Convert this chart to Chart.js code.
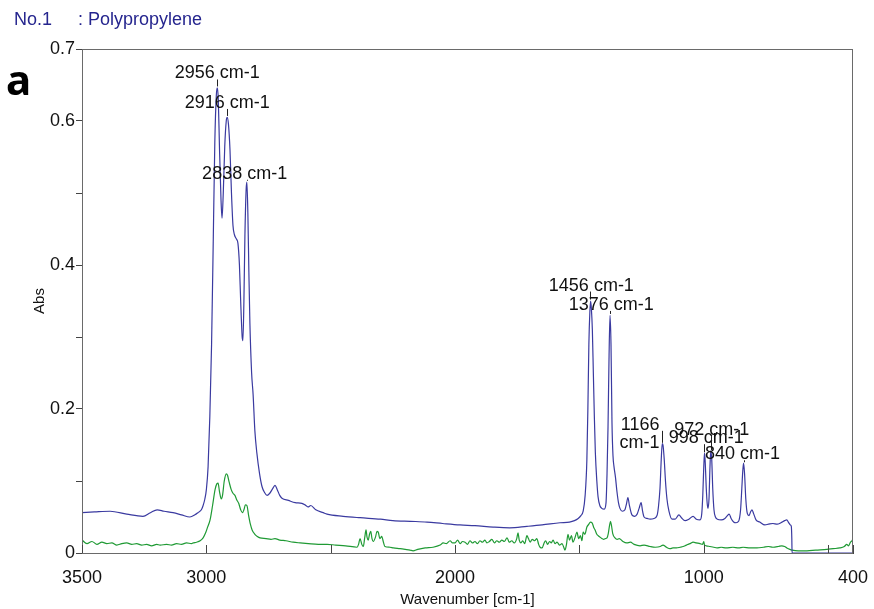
<!DOCTYPE html>
<html>
<head>
<meta charset="utf-8">
<script src="https://cdn.jsdelivr.net/npm/chart.js@4/dist/chart.umd.min.js"></script>
<style>
  html, body { margin: 0; padding: 0; background: #fff; }
  #wrap { position: relative; width: 874px; height: 609px; }
  #chart { position: absolute; left: 0; top: 0; }
  .head { position: absolute; top: 10px; font: 18px/18px "Liberation Sans", Arial, sans-serif; color: #25258e; white-space: nowrap; }
  #panel { position: absolute; left: 6px; top: 58px; font: bold 42px/42px "Noto Sans", sans-serif; color: #000; }
</style>
</head>
<body>
<div id="wrap">
  <canvas id="chart" width="874" height="609"></canvas>
  <div class="head" style="left:14px">No.1</div>
  <div class="head" style="left:78px">: Polypropylene</div>
  <div id="panel">a</div>
</div>
<script>
// sample spectrum (blue)
const ppWavenumber = [3500, 3450, 3387, 3320, 3255, 3225, 3198, 3170, 3134, 3100, 3066, 3046, 3034, 3020, 3013, 3006, 3000, 2993, 2986, 2979, 2972, 2966, 2960, 2956, 2952, 2947, 2941, 2937, 2932, 2926, 2920, 2916, 2911, 2905, 2899, 2893, 2887, 2879, 2873, 2867, 2862, 2856, 2853, 2849, 2845, 2840, 2837, 2833, 2829, 2825, 2818, 2812, 2805, 2797, 2786, 2776, 2766, 2756, 2745, 2734, 2724, 2715, 2705, 2696, 2670, 2643, 2616, 2600, 2591, 2580, 2560, 2530, 2515, 2450, 2382, 2300, 2250, 2180, 2113, 2050, 1980, 1920, 1847, 1780, 1711, 1650, 1578, 1540, 1520, 1505, 1494, 1485, 1477, 1470, 1466, 1462, 1458, 1455, 1452, 1448, 1444, 1440, 1436, 1430, 1425, 1418, 1410, 1400, 1393, 1389, 1385, 1381, 1377, 1373, 1369, 1365, 1361, 1355, 1349, 1343, 1337, 1327, 1317, 1311, 1305, 1299, 1289, 1278, 1268, 1260, 1252, 1246, 1240, 1228, 1216, 1200, 1188, 1182, 1176, 1171, 1167, 1164, 1159, 1154, 1148, 1140, 1128, 1115, 1100, 1090, 1075, 1060, 1043, 1030, 1015, 1008, 1004, 1000, 997, 994, 990, 986, 983, 979, 975, 972, 968, 964, 959, 953, 945, 930, 915, 905, 898, 890, 880, 870, 860, 852, 847, 843, 840, 836, 831, 825, 818, 812, 806, 800, 790, 775, 754, 740, 722, 705, 690, 675, 666, 660, 652, 648, 646, 645, 400];
const ppAbs = [0.056, 0.057, 0.058, 0.054, 0.051, 0.056, 0.060, 0.058, 0.056, 0.053, 0.050, 0.053, 0.056, 0.060, 0.066, 0.075, 0.088, 0.12, 0.19, 0.29, 0.44, 0.57, 0.635, 0.646, 0.63, 0.56, 0.49, 0.465, 0.50, 0.565, 0.60, 0.605, 0.595, 0.56, 0.50, 0.455, 0.442, 0.436, 0.43, 0.40, 0.35, 0.30, 0.295, 0.35, 0.44, 0.505, 0.515, 0.47, 0.39, 0.32, 0.25, 0.22, 0.17, 0.139, 0.11, 0.092, 0.084, 0.080, 0.083, 0.089, 0.094, 0.088, 0.080, 0.076, 0.073, 0.070, 0.069, 0.066, 0.064, 0.066, 0.060, 0.056, 0.054, 0.051, 0.049, 0.047, 0.045, 0.044, 0.043, 0.041, 0.039, 0.038, 0.036, 0.035, 0.037, 0.039, 0.042, 0.043, 0.045, 0.048, 0.052, 0.058, 0.08, 0.13, 0.20, 0.29, 0.335, 0.35, 0.34, 0.31, 0.25, 0.19, 0.14, 0.10, 0.078, 0.066, 0.062, 0.061, 0.07, 0.11, 0.175, 0.27, 0.33, 0.29, 0.18, 0.135, 0.12, 0.105, 0.085, 0.07, 0.062, 0.058, 0.06, 0.068, 0.077, 0.066, 0.053, 0.051, 0.054, 0.062, 0.07, 0.058, 0.05, 0.048, 0.047, 0.048, 0.052, 0.065, 0.09, 0.13, 0.152, 0.15, 0.13, 0.10, 0.075, 0.058, 0.047, 0.047, 0.053, 0.049, 0.045, 0.047, 0.051, 0.047, 0.046, 0.055, 0.08, 0.12, 0.139, 0.125, 0.09, 0.068, 0.062, 0.075, 0.12, 0.142, 0.13, 0.09, 0.06, 0.05, 0.047, 0.046, 0.048, 0.052, 0.054, 0.048, 0.043, 0.042, 0.044, 0.06, 0.09, 0.115, 0.125, 0.11, 0.075, 0.055, 0.052, 0.057, 0.060, 0.055, 0.046, 0.043, 0.039, 0.040, 0.041, 0.040, 0.042, 0.045, 0.046, 0.043, 0.039, 0.037, 0.02, 0.0, 0.0];

// reference spectrum (green)
const refWavenumber = [3500, 3480, 3460, 3440, 3420, 3400, 3380, 3360, 3340, 3320, 3300, 3280, 3260, 3240, 3220, 3200, 3186, 3160, 3140, 3120, 3100, 3080, 3060, 3053, 3040, 3025, 3013, 3003, 2995, 2985, 2975, 2965, 2958, 2953, 2947, 2940, 2935, 2928, 2920, 2915, 2908, 2900, 2893, 2885, 2878, 2870, 2862, 2855, 2849, 2843, 2837, 2830, 2823, 2816, 2805, 2795, 2784, 2760, 2740, 2724, 2705, 2680, 2651, 2623, 2590, 2550, 2515, 2480, 2440, 2394, 2388, 2382, 2375, 2369, 2363, 2358, 2354, 2349, 2344, 2339, 2334, 2329, 2320, 2314, 2309, 2302, 2295, 2288, 2282, 2262, 2248, 2221, 2200, 2181, 2169, 2150, 2120, 2089, 2060, 2048, 2035, 2020, 2010, 2000, 1990, 1980, 1970, 1960, 1950, 1940, 1930, 1920, 1910, 1900, 1890, 1880, 1872, 1862, 1852, 1842, 1832, 1822, 1812, 1802, 1791, 1782, 1772, 1762, 1752, 1747, 1742, 1735, 1728, 1720, 1711, 1705, 1698, 1690, 1680, 1671, 1664, 1658, 1650, 1643, 1636, 1628, 1620, 1613, 1606, 1598, 1590, 1580, 1570, 1563, 1558, 1552, 1546, 1540, 1532, 1526, 1518, 1510, 1503, 1496, 1490, 1485, 1478, 1470, 1462, 1456, 1449, 1442, 1437, 1430, 1424, 1417, 1410, 1403, 1396, 1389, 1384, 1379, 1375, 1371, 1366, 1357, 1348, 1340, 1325, 1310, 1295, 1280, 1256, 1240, 1216, 1195, 1175, 1164, 1150, 1136, 1124, 1110, 1095, 1083, 1070, 1055, 1043, 1030, 1015, 1005, 1000, 997, 990, 975, 960, 947, 930, 910, 883, 860, 842, 814, 786, 760, 740, 722, 700, 686, 675, 666, 654, 645, 620, 585, 550, 505, 480, 453, 435, 425, 418, 410, 404, 400];
const refAbs = [0.018, 0.013, 0.016, 0.012, 0.015, 0.013, 0.014, 0.011, 0.013, 0.014, 0.012, 0.013, 0.011, 0.012, 0.010, 0.012, 0.011, 0.012, 0.011, 0.013, 0.012, 0.014, 0.013, 0.014, 0.015, 0.017, 0.021, 0.028, 0.036, 0.046, 0.066, 0.088, 0.096, 0.097, 0.085, 0.075, 0.08, 0.10, 0.11, 0.108, 0.098, 0.088, 0.083, 0.08, 0.074, 0.069, 0.06, 0.056, 0.06, 0.067, 0.066, 0.052, 0.04, 0.032, 0.026, 0.023, 0.021, 0.02, 0.019, 0.02, 0.018, 0.017, 0.015, 0.014, 0.013, 0.012, 0.012, 0.011, 0.010, 0.008, 0.012, 0.020, 0.012, 0.009, 0.022, 0.032, 0.022, 0.018, 0.026, 0.030, 0.02, 0.016, 0.022, 0.03, 0.029, 0.02, 0.023, 0.015, 0.009, 0.008, 0.007, 0.006, 0.005, 0.004, 0.003, 0.005, 0.007, 0.008, 0.011, 0.014, 0.013, 0.017, 0.014, 0.014, 0.018, 0.013, 0.016, 0.015, 0.012, 0.017, 0.014, 0.016, 0.013, 0.017, 0.015, 0.018, 0.014, 0.016, 0.019, 0.014, 0.017, 0.015, 0.018, 0.016, 0.021, 0.015, 0.017, 0.014, 0.02, 0.028, 0.018, 0.014, 0.017, 0.013, 0.024, 0.02, 0.015, 0.019, 0.017, 0.02, 0.012, 0.008, 0.007, 0.013, 0.017, 0.012, 0.016, 0.014, 0.018, 0.013, 0.015, 0.011, 0.013, 0.008, 0.004, 0.012, 0.026, 0.018, 0.024, 0.015, 0.021, 0.029, 0.02, 0.024, 0.017, 0.029, 0.026, 0.036, 0.04, 0.043, 0.042, 0.035, 0.032, 0.026, 0.024, 0.022, 0.02, 0.019, 0.02, 0.021, 0.027, 0.038, 0.044, 0.038, 0.027, 0.021, 0.019, 0.02, 0.016, 0.014, 0.015, 0.012, 0.01, 0.011, 0.009, 0.008, 0.009, 0.011, 0.008, 0.006, 0.007, 0.007, 0.008, 0.009, 0.011, 0.013, 0.015, 0.014, 0.013, 0.012, 0.016, 0.011, 0.01, 0.009, 0.008, 0.007, 0.008, 0.007, 0.008, 0.007, 0.008, 0.007, 0.007, 0.008, 0.009, 0.008, 0.009, 0.01, 0.009, 0.007, 0.005, 0.004, 0.003, 0.003, 0.004, 0.005, 0.006, 0.007, 0.009, 0.012, 0.01, 0.015, 0.017, 0.02];

// marked peaks
const peakWn = [2956, 2916, 2838, 1456, 1376, 1166, 998, 972, 840];
const peakAbs = [0.648, 0.607, 0.517, 0.352, 0.332, 0.153, 0.14, 0.143, 0.126];
const peakText = ['2956 cm-1', '2916 cm-1', '2838 cm-1', '1456 cm-1', '1376 cm-1', ['1166', 'cm-1'], '998 cm-1', '972 cm-1', '840 cm-1'];

// axes
const xTickValues = [3500, 3000, 2500, 2000, 1500, 1000, 500, 400];
const xTickLabels = ['3500', '3000', '', '2000', '', '1000', '', '400'];
const yTickValues = [0, 0.1, 0.2, 0.3, 0.4, 0.5, 0.6, 0.7];
const yTickLabels = ['0', '', '0.2', '', '0.4', '', '0.6', '0.7'];

// where each peak label sits relative to its peak (pixels)
const labelPlace = [
  { dx: 0, dy: -13, align: 'center' },
  { dx: 0, dy: -13, align: 'center' },
  { dx: -2, dy: -7, align: 'center' },
  { dx: 1, dy: -14, align: 'center' },
  { dx: 1, dy: -9, align: 'center' },
  { dx: -3, dy: -18, align: 'right' },
  { dx: 2, dy: -14, align: 'center' },
  { dx: 1, dy: -20, align: 'center' },
  { dx: -1, dy: -8, align: 'center' },
];

const font18 = { family: '"Liberation Sans", Arial, sans-serif', size: 18 };
const font15 = { family: '"Liberation Sans", Arial, sans-serif', size: 15 };

const toPoints = (xs, ys) => xs.map((x, i) => ({ x: x, y: ys[i] }));

const decorations = {
  id: 'decorations',
  afterDraw(chart) {
    const { ctx, chartArea: a, scales: { x, y } } = chart;
    ctx.save();
    ctx.strokeStyle = '#6a6a6a';
    ctx.lineWidth = 1;
    ctx.strokeRect(a.left + 0.5, a.top + 0.5, a.right - a.left - 1, a.bottom - a.top);

    // x ticks point into the plot
    ctx.strokeStyle = '#444';
    xTickValues.forEach(v => {
      const px = Math.round(x.getPixelForValue(v)) + 0.5;
      ctx.beginPath();
      ctx.moveTo(px, a.bottom);
      ctx.lineTo(px, a.bottom - 8);
      ctx.stroke();
    });

    // peak markers
    ctx.font = '18px "Liberation Sans", Arial, sans-serif';
    ctx.fillStyle = '#111';
    ctx.textBaseline = 'middle';
    peakWn.forEach((wn, i) => {
      const px = x.getPixelForValue(wn);
      const py = y.getPixelForValue(peakAbs[i]);
      const p = labelPlace[i];
      const lines = Array.isArray(peakText[i]) ? peakText[i] : [peakText[i]];
      const ty = py + p.dy;
      ctx.strokeStyle = '#222';
      ctx.beginPath();
      ctx.moveTo(Math.round(px) + 0.5, py);
      ctx.lineTo(Math.round(px) + 0.5, ty + 6);
      ctx.stroke();
      ctx.textAlign = p.align;
      lines.forEach((t, k) => ctx.fillText(t, px + p.dx, ty + k * 18));
    });
    ctx.restore();
  }
};

new Chart(document.getElementById('chart'), {
  type: 'line',
  data: {
    datasets: [
      {
        label: 'Polypropylene',
        data: toPoints(ppWavenumber, ppAbs),
        borderColor: '#3a3aa0',
        borderWidth: 1.2,
        pointRadius: 0,
        cubicInterpolationMode: 'monotone',
      },
      {
        label: 'Reference',
        data: toPoints(refWavenumber, refAbs),
        borderColor: '#1f9a34',
        borderWidth: 1.2,
        pointRadius: 0,
        cubicInterpolationMode: 'monotone',
      },
    ],
  },
  options: {
    responsive: false,
    animation: false,
    devicePixelRatio: 1,
    layout: { padding: { top: 49, right: 21, left: 0, bottom: 0 } },
    plugins: { legend: { display: false }, tooltip: { enabled: false } },
    scales: {
      x: {
        type: 'linear',
        min: 400,
        max: 3500,
        reverse: true,
        afterBuildTicks: s => { s.ticks = xTickValues.map(v => ({ value: v })); },
        afterFit: s => { s.height = 56; },
        ticks: {
          autoSkip: false,
          maxRotation: 0,
          padding: 4,
          font: font18,
          color: '#111',
          callback: (v, i) => xTickLabels[i],
        },
        // ticks themselves are drawn inward by the plugin; this only spaces the labels
        grid: { drawOnChartArea: false, drawTicks: true, tickLength: 10, tickColor: 'rgba(0,0,0,0)' },
        border: { color: '#444' },
        title: { display: true, text: 'Wavenumber [cm-1]', font: font15, color: '#111', padding: { top: 0, bottom: 0 } },
      },
      y: {
        min: 0,
        max: 0.7,
        afterBuildTicks: s => { s.ticks = yTickValues.map(v => ({ value: v })); },
        afterFit: s => { s.width = 82; },
        ticks: {
          autoSkip: false,
          padding: 1,
          font: font18,
          color: '#111',
          callback: (v, i) => yTickLabels[i],
        },
        grid: { drawOnChartArea: false, tickLength: 6, color: '#444' },
        border: { color: '#444' },
        title: { display: true, text: 'Abs', font: font15, color: '#111', padding: { top: 31, bottom: 0 } },
      },
    },
  },
  plugins: [decorations],
});
</script>
</body>
</html>
